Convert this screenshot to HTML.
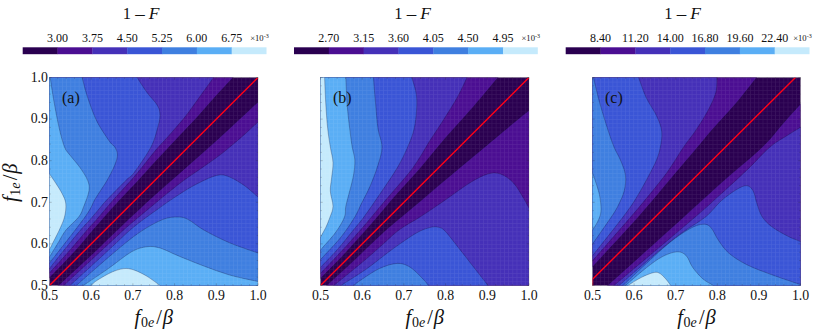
<!DOCTYPE html>
<html><head><meta charset="utf-8"><title>fig</title>
<style>
html,body{margin:0;padding:0;background:#fff;}
body{width:814px;height:336px;overflow:hidden;}
svg{display:block;font-family:"Liberation Serif",serif;fill:#111;}
</style></head><body>
<svg width="814" height="336" viewBox="0 0 814 336">
<defs>
<pattern id="mesh" width="4.17" height="4.16" patternUnits="userSpaceOnUse" x="49.5" y="77.5">
<path d="M0 0.2H4.17M0.2 0V4.16" stroke="#fff" stroke-opacity="0.08" stroke-width="1" fill="none"/>
</pattern>
</defs>
<rect width="814" height="336" fill="#fff"/>
<clipPath id="cp0"><rect x="49.5" y="77.5" width="208.5" height="208.0"/></clipPath>
<g clip-path="url(#cp0)">
<rect x="48.5" y="76.5" width="210.5" height="210.0" fill="#2a0050"/>
<path d="M236.0 74.0C235.5 74.6 236.9 73.2 233.0 77.5C229.1 81.8 218.3 93.4 212.4 100.0C206.5 106.6 202.7 111.2 197.4 117.0C192.1 122.8 185.6 129.5 180.4 135.0C175.2 140.5 171.0 145.0 166.3 150.0C161.6 155.0 156.9 160.0 152.3 165.0C147.7 170.0 143.7 174.7 138.8 180.0C133.9 185.3 127.4 192.0 122.7 197.0C118.0 202.0 114.2 206.2 110.7 210.0C107.2 213.8 104.8 216.7 101.9 220.0C99.0 223.3 95.9 226.7 93.1 230.0C90.2 233.3 87.6 236.7 84.8 240.0C82.0 243.3 79.9 245.8 76.1 250.0C72.3 254.2 66.4 260.4 62.0 265.0C57.6 269.6 52.2 275.1 49.5 277.9C46.8 280.6 46.6 280.9 46.0 281.5L29.5 281.5L29.5 57.5L236.0 57.5Z" fill="#4b0e92"/>
<path d="M262.0 99.0C261.3 99.5 261.4 99.0 258.0 102.0C254.7 105.0 247.8 111.5 241.9 117.0C236.0 122.5 228.4 129.5 222.4 135.0C216.4 140.5 211.4 145.0 205.8 150.0C200.2 155.0 194.5 160.0 188.8 165.0C183.1 170.0 178.4 174.2 171.8 180.0C165.2 185.8 154.8 195.0 149.2 200.0C143.6 205.0 142.1 206.7 138.5 210.0C134.9 213.3 131.2 216.7 127.7 220.0C124.2 223.3 120.8 226.7 117.3 230.0C113.8 233.3 110.4 236.7 106.9 240.0C103.5 243.3 101.0 245.8 96.6 250.0C92.2 254.2 86.9 259.1 80.5 265.0C74.1 270.9 62.6 281.6 58.4 285.5C54.2 289.4 56.0 288.0 55.5 288.5L55.5 305.5L278.0 305.5L278.0 99.0Z" fill="#4b0e92"/>
<path d="M216.0 74.0C215.6 74.6 216.7 73.2 213.6 77.5C210.5 81.8 202.2 93.4 197.4 100.0C192.6 106.6 189.6 111.2 184.9 117.0C180.2 122.8 174.2 129.5 169.4 135.0C164.6 140.5 160.1 145.0 155.8 150.0C151.5 155.0 147.9 160.0 143.8 165.0C139.7 170.0 136.4 174.2 131.3 180.0C126.2 185.8 117.6 195.0 113.2 200.0C108.8 205.0 107.5 206.7 104.7 210.0C101.9 213.3 99.1 216.7 96.2 220.0C93.3 223.3 91.4 225.0 87.1 230.0C82.8 235.0 76.4 242.8 70.1 250.0C63.8 257.1 53.5 268.5 49.5 272.9C45.5 277.3 46.6 275.9 46.0 276.5L29.5 276.5L29.5 57.5L216.0 57.5Z" fill="#4530b8"/>
<path d="M262.0 119.0C261.3 119.5 261.0 119.3 258.0 122.0C255.0 124.7 248.6 130.8 243.9 135.0C239.2 139.2 234.2 143.3 229.8 147.0C225.4 150.7 222.5 153.2 217.3 157.0C212.1 160.8 204.3 166.2 198.8 170.0C193.3 173.8 189.1 176.5 184.3 180.0C179.5 183.5 174.4 187.7 170.2 191.0C166.0 194.3 163.0 196.8 159.2 200.0C155.4 203.2 151.2 206.7 147.2 210.0C143.2 213.3 139.1 216.7 135.2 220.0C131.3 223.3 129.1 225.0 123.6 230.0C118.1 235.0 108.3 244.2 102.0 250.0C95.7 255.8 92.2 259.1 85.8 265.0C79.4 270.9 68.0 281.6 63.8 285.5C59.6 289.4 61.3 288.0 60.8 288.5L60.8 305.5L278.0 305.5L278.0 119.0Z" fill="#4530b8"/>
<path d="M134.7 74.0C135.0 74.5 134.6 73.9 136.7 77.0C138.8 80.1 143.6 87.8 147.0 92.5C150.4 97.2 155.2 101.5 157.4 105.4C159.6 109.3 160.0 111.8 160.0 115.7C160.0 119.6 158.9 123.4 157.4 128.6C155.9 133.8 154.9 139.6 151.0 147.0C147.1 154.4 138.1 167.3 134.0 172.8C129.9 178.3 130.8 175.5 126.3 180.0C121.8 184.5 111.4 195.0 106.7 200.0C102.0 205.0 101.0 206.7 98.2 210.0C95.4 213.3 92.6 216.7 89.7 220.0C86.8 223.3 84.9 225.0 80.6 230.0C76.3 235.0 69.3 243.6 64.1 250.0C58.9 256.4 52.5 264.7 49.5 268.4C46.5 272.1 46.6 271.4 46.0 272.0L29.5 272.0L29.5 57.5L134.7 57.5Z" fill="#3a55d6"/>
<path d="M262.0 199.0C261.3 198.7 260.8 199.2 258.0 197.0C255.2 194.8 249.7 189.3 245.0 186.0C240.3 182.7 234.3 178.8 229.6 177.0C224.9 175.2 222.7 174.0 216.7 175.4C210.7 176.8 200.8 181.8 193.5 185.7C186.2 189.6 178.7 194.7 172.8 198.6C166.9 202.5 163.1 205.3 158.0 209.0C152.9 212.7 146.8 216.8 142.0 220.5C137.2 224.2 134.6 226.1 129.0 231.0C123.5 235.9 118.5 240.9 108.7 250.0C98.9 259.1 77.0 279.1 70.0 285.5C63.0 291.9 67.5 288.0 67.0 288.5L67.0 305.5L278.0 305.5L278.0 199.0Z" fill="#3a55d6"/>
<path d="M81.2 74.0C81.3 74.5 80.9 73.1 82.0 77.0C83.1 80.9 85.2 90.3 87.7 97.6C90.2 104.9 93.1 113.6 96.7 120.9C100.3 128.2 106.6 137.2 109.6 141.5C112.6 145.8 113.5 144.8 114.8 147.0C116.1 149.2 117.4 151.7 117.4 154.7C117.4 157.7 116.5 160.7 114.8 165.0C113.1 169.3 110.2 174.9 107.0 180.5C103.8 186.1 99.1 192.5 95.4 198.6C91.7 204.7 92.7 206.3 85.0 217.0C77.3 227.7 56.0 254.7 49.5 263.0C43.0 271.3 46.6 266.3 46.0 267.0L29.5 267.0L29.5 57.5L81.2 57.5Z" fill="#3f7fe0"/>
<path d="M262.0 254.0C261.3 253.8 263.4 254.9 258.0 253.0C252.6 251.1 238.6 246.6 229.6 242.8C220.6 239.0 210.7 233.9 203.8 230.0C196.9 226.1 192.6 221.8 188.3 219.6C184.0 217.4 182.3 217.0 178.0 217.0C173.7 217.0 168.9 217.0 162.5 219.6C156.1 222.2 147.5 226.9 139.3 232.5C131.1 238.1 124.0 244.2 113.5 253.0C103.0 261.8 83.0 279.6 76.3 285.5C69.6 291.4 73.8 288.0 73.3 288.5L73.3 305.5L278.0 305.5L278.0 254.0Z" fill="#3f7fe0"/>
<path d="M49.8 74.0C49.9 74.7 49.6 73.5 50.3 78.3C51.0 83.1 52.7 94.4 54.2 102.8C55.7 111.2 57.6 121.2 59.3 128.6C61.0 136.0 62.8 142.7 64.5 147.0C66.2 151.3 67.0 151.3 69.6 154.7C72.2 158.1 77.0 163.3 80.0 167.6C83.0 171.9 86.2 176.6 87.7 180.5C89.2 184.4 89.7 186.6 89.0 190.9C88.3 195.2 85.5 202.0 83.8 206.3C82.1 210.7 81.7 213.1 78.7 217.0C75.7 220.9 69.5 225.7 66.0 230.0C62.5 234.3 60.8 238.5 58.0 243.0C55.2 247.5 51.5 253.8 49.5 256.8C47.5 259.8 46.6 260.3 46.0 261.0L29.5 261.0L29.5 74.0Z" fill="#5aaef5"/>
<path d="M262.0 282.0C261.3 281.9 263.4 282.7 258.0 281.5C252.6 280.3 238.6 277.6 229.6 275.0C220.6 272.4 212.4 269.2 203.8 266.0C195.2 262.8 185.3 258.7 178.0 255.7C170.7 252.7 165.2 249.5 160.0 248.0C154.8 246.5 151.8 246.1 147.0 246.7C142.2 247.3 137.9 248.2 131.5 251.8C125.0 255.5 116.3 263.0 108.3 268.6C100.3 274.2 88.1 282.2 83.4 285.5C78.8 288.8 80.9 288.0 80.4 288.5L80.4 305.5L262.0 305.5Z" fill="#5aaef5"/>
<path d="M46.0 170.0C46.6 170.7 48.2 172.2 49.5 174.0C50.8 175.8 51.9 177.3 54.0 180.5C56.1 183.7 60.0 189.5 62.0 193.4C64.0 197.3 65.4 199.9 65.8 203.8C66.2 207.7 65.6 212.6 64.5 217.0C63.4 221.4 61.4 225.3 59.3 230.0C57.1 234.7 53.2 242.2 51.6 245.4C50.0 248.6 50.4 247.6 49.5 249.0C48.6 250.4 46.6 253.2 46.0 254.0L29.5 254.0L29.5 170.0Z" fill="#c5eafc"/>
<path d="M164.0 288.5C163.3 288.0 162.8 287.5 160.0 285.5C157.2 283.5 151.3 278.9 147.0 276.3C142.7 273.7 137.9 271.3 134.0 270.0C130.1 268.7 127.6 268.2 123.8 268.6C120.0 269.0 115.7 270.4 111.0 272.5C106.3 274.6 98.7 279.3 95.4 281.5C92.1 283.7 92.6 284.3 91.4 285.5C90.2 286.7 88.6 288.0 88.0 288.5L88.0 305.5L164.0 305.5Z" fill="#c5eafc"/>
<path d="M236.0 74.0C235.5 74.6 236.9 73.2 233.0 77.5C229.1 81.8 218.3 93.4 212.4 100.0C206.5 106.6 202.7 111.2 197.4 117.0C192.1 122.8 185.6 129.5 180.4 135.0C175.2 140.5 171.0 145.0 166.3 150.0C161.6 155.0 156.9 160.0 152.3 165.0C147.7 170.0 143.7 174.7 138.8 180.0C133.9 185.3 127.4 192.0 122.7 197.0C118.0 202.0 114.2 206.2 110.7 210.0C107.2 213.8 104.8 216.7 101.9 220.0C99.0 223.3 95.9 226.7 93.1 230.0C90.2 233.3 87.6 236.7 84.8 240.0C82.0 243.3 79.9 245.8 76.1 250.0C72.3 254.2 66.4 260.4 62.0 265.0C57.6 269.6 52.2 275.1 49.5 277.9C46.8 280.6 46.6 280.9 46.0 281.5" fill="none" stroke="#0a0a30" stroke-opacity="0.55" stroke-width="0.5"/>
<path d="M262.0 99.0C261.3 99.5 261.4 99.0 258.0 102.0C254.7 105.0 247.8 111.5 241.9 117.0C236.0 122.5 228.4 129.5 222.4 135.0C216.4 140.5 211.4 145.0 205.8 150.0C200.2 155.0 194.5 160.0 188.8 165.0C183.1 170.0 178.4 174.2 171.8 180.0C165.2 185.8 154.8 195.0 149.2 200.0C143.6 205.0 142.1 206.7 138.5 210.0C134.9 213.3 131.2 216.7 127.7 220.0C124.2 223.3 120.8 226.7 117.3 230.0C113.8 233.3 110.4 236.7 106.9 240.0C103.5 243.3 101.0 245.8 96.6 250.0C92.2 254.2 86.9 259.1 80.5 265.0C74.1 270.9 62.6 281.6 58.4 285.5C54.2 289.4 56.0 288.0 55.5 288.5" fill="none" stroke="#0a0a30" stroke-opacity="0.55" stroke-width="0.5"/>
<path d="M216.0 74.0C215.6 74.6 216.7 73.2 213.6 77.5C210.5 81.8 202.2 93.4 197.4 100.0C192.6 106.6 189.6 111.2 184.9 117.0C180.2 122.8 174.2 129.5 169.4 135.0C164.6 140.5 160.1 145.0 155.8 150.0C151.5 155.0 147.9 160.0 143.8 165.0C139.7 170.0 136.4 174.2 131.3 180.0C126.2 185.8 117.6 195.0 113.2 200.0C108.8 205.0 107.5 206.7 104.7 210.0C101.9 213.3 99.1 216.7 96.2 220.0C93.3 223.3 91.4 225.0 87.1 230.0C82.8 235.0 76.4 242.8 70.1 250.0C63.8 257.1 53.5 268.5 49.5 272.9C45.5 277.3 46.6 275.9 46.0 276.5" fill="none" stroke="#0a0a30" stroke-opacity="0.55" stroke-width="0.5"/>
<path d="M262.0 119.0C261.3 119.5 261.0 119.3 258.0 122.0C255.0 124.7 248.6 130.8 243.9 135.0C239.2 139.2 234.2 143.3 229.8 147.0C225.4 150.7 222.5 153.2 217.3 157.0C212.1 160.8 204.3 166.2 198.8 170.0C193.3 173.8 189.1 176.5 184.3 180.0C179.5 183.5 174.4 187.7 170.2 191.0C166.0 194.3 163.0 196.8 159.2 200.0C155.4 203.2 151.2 206.7 147.2 210.0C143.2 213.3 139.1 216.7 135.2 220.0C131.3 223.3 129.1 225.0 123.6 230.0C118.1 235.0 108.3 244.2 102.0 250.0C95.7 255.8 92.2 259.1 85.8 265.0C79.4 270.9 68.0 281.6 63.8 285.5C59.6 289.4 61.3 288.0 60.8 288.5" fill="none" stroke="#0a0a30" stroke-opacity="0.55" stroke-width="0.5"/>
<path d="M134.7 74.0C135.0 74.5 134.6 73.9 136.7 77.0C138.8 80.1 143.6 87.8 147.0 92.5C150.4 97.2 155.2 101.5 157.4 105.4C159.6 109.3 160.0 111.8 160.0 115.7C160.0 119.6 158.9 123.4 157.4 128.6C155.9 133.8 154.9 139.6 151.0 147.0C147.1 154.4 138.1 167.3 134.0 172.8C129.9 178.3 130.8 175.5 126.3 180.0C121.8 184.5 111.4 195.0 106.7 200.0C102.0 205.0 101.0 206.7 98.2 210.0C95.4 213.3 92.6 216.7 89.7 220.0C86.8 223.3 84.9 225.0 80.6 230.0C76.3 235.0 69.3 243.6 64.1 250.0C58.9 256.4 52.5 264.7 49.5 268.4C46.5 272.1 46.6 271.4 46.0 272.0" fill="none" stroke="#0a0a30" stroke-opacity="0.55" stroke-width="0.5"/>
<path d="M262.0 199.0C261.3 198.7 260.8 199.2 258.0 197.0C255.2 194.8 249.7 189.3 245.0 186.0C240.3 182.7 234.3 178.8 229.6 177.0C224.9 175.2 222.7 174.0 216.7 175.4C210.7 176.8 200.8 181.8 193.5 185.7C186.2 189.6 178.7 194.7 172.8 198.6C166.9 202.5 163.1 205.3 158.0 209.0C152.9 212.7 146.8 216.8 142.0 220.5C137.2 224.2 134.6 226.1 129.0 231.0C123.5 235.9 118.5 240.9 108.7 250.0C98.9 259.1 77.0 279.1 70.0 285.5C63.0 291.9 67.5 288.0 67.0 288.5" fill="none" stroke="#0a0a30" stroke-opacity="0.55" stroke-width="0.5"/>
<path d="M81.2 74.0C81.3 74.5 80.9 73.1 82.0 77.0C83.1 80.9 85.2 90.3 87.7 97.6C90.2 104.9 93.1 113.6 96.7 120.9C100.3 128.2 106.6 137.2 109.6 141.5C112.6 145.8 113.5 144.8 114.8 147.0C116.1 149.2 117.4 151.7 117.4 154.7C117.4 157.7 116.5 160.7 114.8 165.0C113.1 169.3 110.2 174.9 107.0 180.5C103.8 186.1 99.1 192.5 95.4 198.6C91.7 204.7 92.7 206.3 85.0 217.0C77.3 227.7 56.0 254.7 49.5 263.0C43.0 271.3 46.6 266.3 46.0 267.0" fill="none" stroke="#0a0a30" stroke-opacity="0.55" stroke-width="0.5"/>
<path d="M262.0 254.0C261.3 253.8 263.4 254.9 258.0 253.0C252.6 251.1 238.6 246.6 229.6 242.8C220.6 239.0 210.7 233.9 203.8 230.0C196.9 226.1 192.6 221.8 188.3 219.6C184.0 217.4 182.3 217.0 178.0 217.0C173.7 217.0 168.9 217.0 162.5 219.6C156.1 222.2 147.5 226.9 139.3 232.5C131.1 238.1 124.0 244.2 113.5 253.0C103.0 261.8 83.0 279.6 76.3 285.5C69.6 291.4 73.8 288.0 73.3 288.5" fill="none" stroke="#0a0a30" stroke-opacity="0.55" stroke-width="0.5"/>
<path d="M49.8 74.0C49.9 74.7 49.6 73.5 50.3 78.3C51.0 83.1 52.7 94.4 54.2 102.8C55.7 111.2 57.6 121.2 59.3 128.6C61.0 136.0 62.8 142.7 64.5 147.0C66.2 151.3 67.0 151.3 69.6 154.7C72.2 158.1 77.0 163.3 80.0 167.6C83.0 171.9 86.2 176.6 87.7 180.5C89.2 184.4 89.7 186.6 89.0 190.9C88.3 195.2 85.5 202.0 83.8 206.3C82.1 210.7 81.7 213.1 78.7 217.0C75.7 220.9 69.5 225.7 66.0 230.0C62.5 234.3 60.8 238.5 58.0 243.0C55.2 247.5 51.5 253.8 49.5 256.8C47.5 259.8 46.6 260.3 46.0 261.0" fill="none" stroke="#0a0a30" stroke-opacity="0.55" stroke-width="0.5"/>
<path d="M262.0 282.0C261.3 281.9 263.4 282.7 258.0 281.5C252.6 280.3 238.6 277.6 229.6 275.0C220.6 272.4 212.4 269.2 203.8 266.0C195.2 262.8 185.3 258.7 178.0 255.7C170.7 252.7 165.2 249.5 160.0 248.0C154.8 246.5 151.8 246.1 147.0 246.7C142.2 247.3 137.9 248.2 131.5 251.8C125.0 255.5 116.3 263.0 108.3 268.6C100.3 274.2 88.1 282.2 83.4 285.5C78.8 288.8 80.9 288.0 80.4 288.5" fill="none" stroke="#0a0a30" stroke-opacity="0.55" stroke-width="0.5"/>
<path d="M46.0 170.0C46.6 170.7 48.2 172.2 49.5 174.0C50.8 175.8 51.9 177.3 54.0 180.5C56.1 183.7 60.0 189.5 62.0 193.4C64.0 197.3 65.4 199.9 65.8 203.8C66.2 207.7 65.6 212.6 64.5 217.0C63.4 221.4 61.4 225.3 59.3 230.0C57.1 234.7 53.2 242.2 51.6 245.4C50.0 248.6 50.4 247.6 49.5 249.0C48.6 250.4 46.6 253.2 46.0 254.0" fill="none" stroke="#0a0a30" stroke-opacity="0.55" stroke-width="0.5"/>
<path d="M164.0 288.5C163.3 288.0 162.8 287.5 160.0 285.5C157.2 283.5 151.3 278.9 147.0 276.3C142.7 273.7 137.9 271.3 134.0 270.0C130.1 268.7 127.6 268.2 123.8 268.6C120.0 269.0 115.7 270.4 111.0 272.5C106.3 274.6 98.7 279.3 95.4 281.5C92.1 283.7 92.6 284.3 91.4 285.5C90.2 286.7 88.6 288.0 88.0 288.5" fill="none" stroke="#0a0a30" stroke-opacity="0.55" stroke-width="0.5"/>
<rect x="49.5" y="77.5" width="208.5" height="208.0" fill="url(#mesh)"/>
<path d="M49.5 285.5L258 77.5" fill="none" stroke="#ff0018" stroke-width="1.4"/>
</g>
<path d="M49.50 285.5v-2.2M49.50 77.5v2.2M49.5 285.50h2.2M258.0 285.50h-2.2M57.84 285.5v-1.3M57.84 77.5v1.3M49.5 277.18h1.3M258.0 277.18h-1.3M66.18 285.5v-1.3M66.18 77.5v1.3M49.5 268.86h1.3M258.0 268.86h-1.3M74.52 285.5v-1.3M74.52 77.5v1.3M49.5 260.54h1.3M258.0 260.54h-1.3M82.86 285.5v-1.3M82.86 77.5v1.3M49.5 252.22h1.3M258.0 252.22h-1.3M91.20 285.5v-2.2M91.20 77.5v2.2M49.5 243.90h2.2M258.0 243.90h-2.2M99.54 285.5v-1.3M99.54 77.5v1.3M49.5 235.58h1.3M258.0 235.58h-1.3M107.88 285.5v-1.3M107.88 77.5v1.3M49.5 227.26h1.3M258.0 227.26h-1.3M116.22 285.5v-1.3M116.22 77.5v1.3M49.5 218.94h1.3M258.0 218.94h-1.3M124.56 285.5v-1.3M124.56 77.5v1.3M49.5 210.62h1.3M258.0 210.62h-1.3M132.90 285.5v-2.2M132.90 77.5v2.2M49.5 202.30h2.2M258.0 202.30h-2.2M141.24 285.5v-1.3M141.24 77.5v1.3M49.5 193.98h1.3M258.0 193.98h-1.3M149.58 285.5v-1.3M149.58 77.5v1.3M49.5 185.66h1.3M258.0 185.66h-1.3M157.92 285.5v-1.3M157.92 77.5v1.3M49.5 177.34h1.3M258.0 177.34h-1.3M166.26 285.5v-1.3M166.26 77.5v1.3M49.5 169.02h1.3M258.0 169.02h-1.3M174.60 285.5v-2.2M174.60 77.5v2.2M49.5 160.70h2.2M258.0 160.70h-2.2M182.94 285.5v-1.3M182.94 77.5v1.3M49.5 152.38h1.3M258.0 152.38h-1.3M191.28 285.5v-1.3M191.28 77.5v1.3M49.5 144.06h1.3M258.0 144.06h-1.3M199.62 285.5v-1.3M199.62 77.5v1.3M49.5 135.74h1.3M258.0 135.74h-1.3M207.96 285.5v-1.3M207.96 77.5v1.3M49.5 127.42h1.3M258.0 127.42h-1.3M216.30 285.5v-2.2M216.30 77.5v2.2M49.5 119.10h2.2M258.0 119.10h-2.2M224.64 285.5v-1.3M224.64 77.5v1.3M49.5 110.78h1.3M258.0 110.78h-1.3M232.98 285.5v-1.3M232.98 77.5v1.3M49.5 102.46h1.3M258.0 102.46h-1.3M241.32 285.5v-1.3M241.32 77.5v1.3M49.5 94.14h1.3M258.0 94.14h-1.3M249.66 285.5v-1.3M249.66 77.5v1.3M49.5 85.82h1.3M258.0 85.82h-1.3M258.00 285.5v-2.2M258.00 77.5v2.2M49.5 77.50h2.2M258.0 77.50h-2.2" stroke="#222" stroke-opacity="0.6" stroke-width="0.4" fill="none"/>
<rect x="49.5" y="77.5" width="208.5" height="208.0" fill="none" stroke="#555" stroke-opacity="0.5" stroke-width="0.4"/>
<text x="49.5" y="299.9" text-anchor="middle" font-size="13.8">0.5</text>
<text x="91.2" y="299.9" text-anchor="middle" font-size="13.8">0.6</text>
<text x="132.9" y="299.9" text-anchor="middle" font-size="13.8">0.7</text>
<text x="174.6" y="299.9" text-anchor="middle" font-size="13.8">0.8</text>
<text x="216.3" y="299.9" text-anchor="middle" font-size="13.8">0.9</text>
<text x="258.0" y="299.9" text-anchor="middle" font-size="13.8">1.0</text>
<text x="153.8" y="323.6" text-anchor="middle" font-size="20.5" font-style="italic" class="axl">f<tspan font-size="14" dy="3.4" dx="0.6" font-style="normal">0</tspan><tspan font-size="14">e</tspan><tspan dy="-3.4" dx="2.2" font-style="normal">/</tspan><tspan dx="0.8">β</tspan></text>
<rect x="22.70" y="47.3" width="35.13" height="6.9" fill="#2a0050"/>
<rect x="57.53" y="47.3" width="35.13" height="6.9" fill="#4b0e92"/>
<rect x="92.36" y="47.3" width="35.13" height="6.9" fill="#4530b8"/>
<rect x="127.19" y="47.3" width="35.13" height="6.9" fill="#3a55d6"/>
<rect x="162.02" y="47.3" width="35.13" height="6.9" fill="#3f7fe0"/>
<rect x="196.85" y="47.3" width="35.13" height="6.9" fill="#5aaef5"/>
<rect x="231.68" y="47.3" width="34.83" height="6.9" fill="#c5eafc"/>
<text x="57.5" y="41.6" text-anchor="middle" font-size="12">3.00</text>
<text x="92.4" y="41.6" text-anchor="middle" font-size="12">3.75</text>
<text x="127.2" y="41.6" text-anchor="middle" font-size="12">4.50</text>
<text x="162.0" y="41.6" text-anchor="middle" font-size="12">5.25</text>
<text x="196.8" y="41.6" text-anchor="middle" font-size="12">6.00</text>
<text x="231.7" y="41.6" text-anchor="middle" font-size="12">6.75</text>
<text x="250.2" y="40.8" font-size="8.6">×10<tspan dy="-3" font-size="6">-3</tspan></text>
<text x="141.2" y="19.3" text-anchor="middle" font-size="16.5">1 <tspan font-size="19" dy="0.6">–</tspan><tspan dy="-0.6"> </tspan><tspan font-style="italic" font-size="17.5">F</tspan></text>
<text x="62.0" y="102.6" font-size="16">(a)</text>
<clipPath id="cp1"><rect x="320.5" y="77.5" width="208.5" height="208.0"/></clipPath>
<g clip-path="url(#cp1)">
<rect x="319.5" y="76.5" width="210.5" height="210.0" fill="#2a0050"/>
<path d="M500.5 74.0C500.1 74.6 502.3 72.3 498.0 77.5C493.7 82.7 482.2 96.6 474.9 105.0C467.6 113.4 459.6 122.2 454.4 128.0C449.2 133.8 447.6 135.5 443.8 140.0C440.0 144.5 435.5 150.0 431.3 155.0C427.1 160.0 423.2 165.0 418.8 170.0C414.4 175.0 409.7 180.0 405.2 185.0C400.7 190.0 396.0 195.0 391.7 200.0C387.4 205.0 383.5 210.0 379.2 215.0C374.9 220.0 370.5 225.0 366.1 230.0C361.7 235.0 357.2 240.0 352.6 245.0C348.1 250.0 344.2 254.4 338.8 260.0C333.4 265.6 324.1 274.9 320.5 278.6C316.9 282.3 317.6 281.4 317.0 282.0L317.0 305.5L300.5 305.5L300.5 57.5L500.5 57.5Z" fill="#4b0e92"/>
<path d="M533.0 106.0C532.3 106.7 531.6 108.0 529.0 110.3C526.4 112.6 524.5 113.9 517.1 120.0C509.7 126.1 492.1 140.8 484.7 147.0C477.3 153.2 477.3 153.2 472.7 157.0C468.1 160.8 462.6 165.4 457.1 170.0C451.7 174.6 445.9 179.3 440.0 184.3C434.1 189.3 427.8 194.9 421.7 200.0C415.6 205.1 409.7 210.0 403.7 215.0C397.7 220.0 391.5 225.0 385.9 230.0C380.3 235.0 375.2 240.0 369.9 245.0C364.6 250.0 361.5 253.2 354.3 260.0C347.1 266.8 331.8 280.8 326.7 285.5C321.6 290.2 324.2 288.0 323.7 288.5L323.7 305.5L549.0 305.5L549.0 106.0Z" fill="#4b0e92"/>
<path d="M468.5 74.0C468.2 74.6 468.8 73.7 467.0 77.5C465.2 81.3 461.4 89.9 457.5 97.0C453.6 104.1 447.9 112.8 443.4 120.0C438.9 127.2 434.0 134.2 430.3 140.0C426.6 145.8 424.5 150.0 421.3 155.0C418.1 160.0 415.1 165.0 411.3 170.0C407.5 175.0 403.0 180.0 398.7 185.0C394.4 190.0 389.9 195.0 385.7 200.0C381.4 205.0 377.4 210.0 373.2 215.0C369.0 220.0 365.6 224.2 360.5 230.0C355.4 235.8 349.3 242.8 342.6 250.0C335.9 257.2 324.8 268.9 320.5 273.4C316.2 277.9 317.6 276.4 317.0 277.0L300.5 277.0L300.5 57.5L468.5 57.5Z" fill="#4530b8"/>
<path d="M533.0 213.0C532.3 212.2 530.5 210.4 529.0 208.0C527.5 205.6 526.4 202.8 523.8 198.6C521.2 194.4 517.4 187.1 513.5 183.0C509.6 178.9 504.9 175.5 500.6 174.0C496.3 172.5 492.9 172.5 487.7 174.0C482.5 175.5 476.9 178.5 469.6 183.0C462.3 187.5 452.1 195.3 443.8 201.0C435.5 206.7 427.5 212.2 420.0 217.0C412.5 221.8 405.3 225.3 399.0 230.0C392.7 234.7 387.7 240.0 382.0 245.0C376.3 250.0 373.0 253.2 365.0 260.0C357.0 266.8 339.6 280.8 333.9 285.5C328.1 290.2 331.1 288.0 330.5 288.5L330.5 305.5L549.0 305.5L549.0 213.0Z" fill="#4530b8"/>
<path d="M410.5 74.0C410.7 74.5 410.7 73.9 411.6 77.0C412.5 80.1 415.1 87.3 416.0 92.5C416.9 97.7 417.0 102.0 416.7 108.0C416.4 114.0 415.7 122.1 414.2 128.6C412.7 135.1 410.5 140.5 407.7 147.0C404.9 153.5 401.7 160.3 397.4 167.6C393.1 174.9 387.6 182.8 382.0 191.0C376.4 199.2 368.7 210.5 363.9 217.0C359.1 223.5 357.9 224.5 353.4 230.0C348.9 235.5 342.5 243.8 337.0 250.0C331.5 256.2 323.8 263.9 320.5 267.4C317.2 270.9 317.6 270.4 317.0 271.0L300.5 271.0L300.5 57.5L410.5 57.5Z" fill="#3a55d6"/>
<path d="M490.5 289.0C490.1 288.4 490.6 288.9 488.0 285.5C485.4 282.1 480.0 275.3 474.8 268.6C469.6 261.9 461.7 251.7 456.7 245.4C451.7 239.1 448.0 234.0 445.0 231.0C442.0 228.0 441.2 227.9 438.7 227.3C436.2 226.7 433.9 226.5 430.0 227.5C426.1 228.5 421.8 229.8 415.5 233.5C409.2 237.2 400.2 243.6 392.0 249.5C383.8 255.4 374.9 263.0 366.4 269.0C357.9 275.0 345.9 282.2 341.0 285.5C336.1 288.8 337.7 288.0 337.0 288.5L337.0 305.5L490.5 305.5Z" fill="#3a55d6"/>
<path d="M373.1 74.0C373.2 74.5 373.0 72.2 373.4 77.0C373.8 81.8 374.7 94.2 375.5 102.8C376.3 111.4 376.9 121.2 378.0 128.6C379.1 136.0 382.0 140.9 382.0 147.0C382.0 153.1 379.9 158.6 378.0 165.0C376.1 171.4 373.1 179.2 370.3 185.7C367.5 192.2 363.9 198.6 361.3 203.8C358.7 209.0 358.2 211.4 354.8 217.0C351.4 222.6 346.3 230.5 340.6 237.6C334.9 244.7 324.4 255.2 320.5 259.6C316.6 264.0 317.6 263.3 317.0 264.0L300.5 264.0L300.5 57.5L373.1 57.5Z" fill="#3f7fe0"/>
<path d="M431.0 289.0C430.6 288.4 429.7 287.2 428.4 285.5C427.1 283.8 426.0 282.0 423.0 279.0C420.0 276.0 414.6 269.9 410.3 267.3C406.0 264.7 402.6 263.2 397.4 263.4C392.2 263.6 385.8 265.6 379.3 268.6C372.9 271.6 362.9 278.7 358.7 281.5C354.5 284.3 355.4 284.3 354.0 285.5C352.6 286.7 350.7 288.0 350.0 288.5L350.0 305.5L431.0 305.5Z" fill="#3f7fe0"/>
<path d="M345.6 74.0C345.6 74.5 345.6 72.2 345.8 77.0C346.0 81.8 346.4 94.2 347.0 102.8C347.6 111.4 348.8 121.2 349.7 128.6C350.6 136.0 351.3 141.8 352.2 147.0C353.1 152.2 354.6 155.3 354.8 160.0C355.0 164.7 354.4 170.2 353.5 175.4C352.6 180.6 351.0 185.8 349.7 191.0C348.4 196.2 346.7 202.0 345.8 206.3C344.9 210.6 346.2 212.6 344.5 217.0C342.8 221.4 339.5 227.0 335.5 232.5C331.5 238.0 323.6 246.2 320.5 250.0C317.4 253.8 317.6 254.2 317.0 255.0L300.5 255.0L300.5 57.5L345.6 57.5Z" fill="#5aaef5"/>
<path d="M324.5 74.0C324.5 74.5 324.4 72.2 324.6 77.0C324.8 81.8 325.2 94.2 325.7 102.8C326.2 111.4 326.9 121.2 327.7 128.6C328.5 136.0 329.4 141.3 330.3 147.0C331.2 152.7 332.8 157.3 333.0 162.5C333.2 167.7 332.1 173.2 331.6 178.0C331.2 182.8 330.1 186.3 330.3 191.0C330.5 195.7 333.1 202.0 333.0 206.3C332.9 210.6 331.2 213.6 330.0 217.0C328.8 220.4 327.6 223.7 326.0 227.0C324.4 230.3 322.0 234.5 320.5 237.0C319.0 239.5 317.6 241.2 317.0 242.0L300.5 242.0L300.5 57.5L324.5 57.5Z" fill="#c5eafc"/>
<path d="M500.5 74.0C500.1 74.6 502.3 72.3 498.0 77.5C493.7 82.7 482.2 96.6 474.9 105.0C467.6 113.4 459.6 122.2 454.4 128.0C449.2 133.8 447.6 135.5 443.8 140.0C440.0 144.5 435.5 150.0 431.3 155.0C427.1 160.0 423.2 165.0 418.8 170.0C414.4 175.0 409.7 180.0 405.2 185.0C400.7 190.0 396.0 195.0 391.7 200.0C387.4 205.0 383.5 210.0 379.2 215.0C374.9 220.0 370.5 225.0 366.1 230.0C361.7 235.0 357.2 240.0 352.6 245.0C348.1 250.0 344.2 254.4 338.8 260.0C333.4 265.6 324.1 274.9 320.5 278.6C316.9 282.3 317.6 281.4 317.0 282.0" fill="none" stroke="#0a0a30" stroke-opacity="0.55" stroke-width="0.5"/>
<path d="M533.0 106.0C532.3 106.7 531.6 108.0 529.0 110.3C526.4 112.6 524.5 113.9 517.1 120.0C509.7 126.1 492.1 140.8 484.7 147.0C477.3 153.2 477.3 153.2 472.7 157.0C468.1 160.8 462.6 165.4 457.1 170.0C451.7 174.6 445.9 179.3 440.0 184.3C434.1 189.3 427.8 194.9 421.7 200.0C415.6 205.1 409.7 210.0 403.7 215.0C397.7 220.0 391.5 225.0 385.9 230.0C380.3 235.0 375.2 240.0 369.9 245.0C364.6 250.0 361.5 253.2 354.3 260.0C347.1 266.8 331.8 280.8 326.7 285.5C321.6 290.2 324.2 288.0 323.7 288.5" fill="none" stroke="#0a0a30" stroke-opacity="0.55" stroke-width="0.5"/>
<path d="M468.5 74.0C468.2 74.6 468.8 73.7 467.0 77.5C465.2 81.3 461.4 89.9 457.5 97.0C453.6 104.1 447.9 112.8 443.4 120.0C438.9 127.2 434.0 134.2 430.3 140.0C426.6 145.8 424.5 150.0 421.3 155.0C418.1 160.0 415.1 165.0 411.3 170.0C407.5 175.0 403.0 180.0 398.7 185.0C394.4 190.0 389.9 195.0 385.7 200.0C381.4 205.0 377.4 210.0 373.2 215.0C369.0 220.0 365.6 224.2 360.5 230.0C355.4 235.8 349.3 242.8 342.6 250.0C335.9 257.2 324.8 268.9 320.5 273.4C316.2 277.9 317.6 276.4 317.0 277.0" fill="none" stroke="#0a0a30" stroke-opacity="0.55" stroke-width="0.5"/>
<path d="M533.0 213.0C532.3 212.2 530.5 210.4 529.0 208.0C527.5 205.6 526.4 202.8 523.8 198.6C521.2 194.4 517.4 187.1 513.5 183.0C509.6 178.9 504.9 175.5 500.6 174.0C496.3 172.5 492.9 172.5 487.7 174.0C482.5 175.5 476.9 178.5 469.6 183.0C462.3 187.5 452.1 195.3 443.8 201.0C435.5 206.7 427.5 212.2 420.0 217.0C412.5 221.8 405.3 225.3 399.0 230.0C392.7 234.7 387.7 240.0 382.0 245.0C376.3 250.0 373.0 253.2 365.0 260.0C357.0 266.8 339.6 280.8 333.9 285.5C328.1 290.2 331.1 288.0 330.5 288.5" fill="none" stroke="#0a0a30" stroke-opacity="0.55" stroke-width="0.5"/>
<path d="M410.5 74.0C410.7 74.5 410.7 73.9 411.6 77.0C412.5 80.1 415.1 87.3 416.0 92.5C416.9 97.7 417.0 102.0 416.7 108.0C416.4 114.0 415.7 122.1 414.2 128.6C412.7 135.1 410.5 140.5 407.7 147.0C404.9 153.5 401.7 160.3 397.4 167.6C393.1 174.9 387.6 182.8 382.0 191.0C376.4 199.2 368.7 210.5 363.9 217.0C359.1 223.5 357.9 224.5 353.4 230.0C348.9 235.5 342.5 243.8 337.0 250.0C331.5 256.2 323.8 263.9 320.5 267.4C317.2 270.9 317.6 270.4 317.0 271.0" fill="none" stroke="#0a0a30" stroke-opacity="0.55" stroke-width="0.5"/>
<path d="M490.5 289.0C490.1 288.4 490.6 288.9 488.0 285.5C485.4 282.1 480.0 275.3 474.8 268.6C469.6 261.9 461.7 251.7 456.7 245.4C451.7 239.1 448.0 234.0 445.0 231.0C442.0 228.0 441.2 227.9 438.7 227.3C436.2 226.7 433.9 226.5 430.0 227.5C426.1 228.5 421.8 229.8 415.5 233.5C409.2 237.2 400.2 243.6 392.0 249.5C383.8 255.4 374.9 263.0 366.4 269.0C357.9 275.0 345.9 282.2 341.0 285.5C336.1 288.8 337.7 288.0 337.0 288.5" fill="none" stroke="#0a0a30" stroke-opacity="0.55" stroke-width="0.5"/>
<path d="M373.1 74.0C373.2 74.5 373.0 72.2 373.4 77.0C373.8 81.8 374.7 94.2 375.5 102.8C376.3 111.4 376.9 121.2 378.0 128.6C379.1 136.0 382.0 140.9 382.0 147.0C382.0 153.1 379.9 158.6 378.0 165.0C376.1 171.4 373.1 179.2 370.3 185.7C367.5 192.2 363.9 198.6 361.3 203.8C358.7 209.0 358.2 211.4 354.8 217.0C351.4 222.6 346.3 230.5 340.6 237.6C334.9 244.7 324.4 255.2 320.5 259.6C316.6 264.0 317.6 263.3 317.0 264.0" fill="none" stroke="#0a0a30" stroke-opacity="0.55" stroke-width="0.5"/>
<path d="M431.0 289.0C430.6 288.4 429.7 287.2 428.4 285.5C427.1 283.8 426.0 282.0 423.0 279.0C420.0 276.0 414.6 269.9 410.3 267.3C406.0 264.7 402.6 263.2 397.4 263.4C392.2 263.6 385.8 265.6 379.3 268.6C372.9 271.6 362.9 278.7 358.7 281.5C354.5 284.3 355.4 284.3 354.0 285.5C352.6 286.7 350.7 288.0 350.0 288.5" fill="none" stroke="#0a0a30" stroke-opacity="0.55" stroke-width="0.5"/>
<path d="M345.6 74.0C345.6 74.5 345.6 72.2 345.8 77.0C346.0 81.8 346.4 94.2 347.0 102.8C347.6 111.4 348.8 121.2 349.7 128.6C350.6 136.0 351.3 141.8 352.2 147.0C353.1 152.2 354.6 155.3 354.8 160.0C355.0 164.7 354.4 170.2 353.5 175.4C352.6 180.6 351.0 185.8 349.7 191.0C348.4 196.2 346.7 202.0 345.8 206.3C344.9 210.6 346.2 212.6 344.5 217.0C342.8 221.4 339.5 227.0 335.5 232.5C331.5 238.0 323.6 246.2 320.5 250.0C317.4 253.8 317.6 254.2 317.0 255.0" fill="none" stroke="#0a0a30" stroke-opacity="0.55" stroke-width="0.5"/>
<path d="M324.5 74.0C324.5 74.5 324.4 72.2 324.6 77.0C324.8 81.8 325.2 94.2 325.7 102.8C326.2 111.4 326.9 121.2 327.7 128.6C328.5 136.0 329.4 141.3 330.3 147.0C331.2 152.7 332.8 157.3 333.0 162.5C333.2 167.7 332.1 173.2 331.6 178.0C331.2 182.8 330.1 186.3 330.3 191.0C330.5 195.7 333.1 202.0 333.0 206.3C332.9 210.6 331.2 213.6 330.0 217.0C328.8 220.4 327.6 223.7 326.0 227.0C324.4 230.3 322.0 234.5 320.5 237.0C319.0 239.5 317.6 241.2 317.0 242.0" fill="none" stroke="#0a0a30" stroke-opacity="0.55" stroke-width="0.5"/>
<rect x="320.5" y="77.5" width="208.5" height="208.0" fill="url(#mesh)"/>
<path d="M320.5 285.5L529 77.5" fill="none" stroke="#ff0018" stroke-width="1.4"/>
</g>
<path d="M320.50 285.5v-2.2M320.50 77.5v2.2M320.5 285.50h2.2M529.0 285.50h-2.2M328.84 285.5v-1.3M328.84 77.5v1.3M320.5 277.18h1.3M529.0 277.18h-1.3M337.18 285.5v-1.3M337.18 77.5v1.3M320.5 268.86h1.3M529.0 268.86h-1.3M345.52 285.5v-1.3M345.52 77.5v1.3M320.5 260.54h1.3M529.0 260.54h-1.3M353.86 285.5v-1.3M353.86 77.5v1.3M320.5 252.22h1.3M529.0 252.22h-1.3M362.20 285.5v-2.2M362.20 77.5v2.2M320.5 243.90h2.2M529.0 243.90h-2.2M370.54 285.5v-1.3M370.54 77.5v1.3M320.5 235.58h1.3M529.0 235.58h-1.3M378.88 285.5v-1.3M378.88 77.5v1.3M320.5 227.26h1.3M529.0 227.26h-1.3M387.22 285.5v-1.3M387.22 77.5v1.3M320.5 218.94h1.3M529.0 218.94h-1.3M395.56 285.5v-1.3M395.56 77.5v1.3M320.5 210.62h1.3M529.0 210.62h-1.3M403.90 285.5v-2.2M403.90 77.5v2.2M320.5 202.30h2.2M529.0 202.30h-2.2M412.24 285.5v-1.3M412.24 77.5v1.3M320.5 193.98h1.3M529.0 193.98h-1.3M420.58 285.5v-1.3M420.58 77.5v1.3M320.5 185.66h1.3M529.0 185.66h-1.3M428.92 285.5v-1.3M428.92 77.5v1.3M320.5 177.34h1.3M529.0 177.34h-1.3M437.26 285.5v-1.3M437.26 77.5v1.3M320.5 169.02h1.3M529.0 169.02h-1.3M445.60 285.5v-2.2M445.60 77.5v2.2M320.5 160.70h2.2M529.0 160.70h-2.2M453.94 285.5v-1.3M453.94 77.5v1.3M320.5 152.38h1.3M529.0 152.38h-1.3M462.28 285.5v-1.3M462.28 77.5v1.3M320.5 144.06h1.3M529.0 144.06h-1.3M470.62 285.5v-1.3M470.62 77.5v1.3M320.5 135.74h1.3M529.0 135.74h-1.3M478.96 285.5v-1.3M478.96 77.5v1.3M320.5 127.42h1.3M529.0 127.42h-1.3M487.30 285.5v-2.2M487.30 77.5v2.2M320.5 119.10h2.2M529.0 119.10h-2.2M495.64 285.5v-1.3M495.64 77.5v1.3M320.5 110.78h1.3M529.0 110.78h-1.3M503.98 285.5v-1.3M503.98 77.5v1.3M320.5 102.46h1.3M529.0 102.46h-1.3M512.32 285.5v-1.3M512.32 77.5v1.3M320.5 94.14h1.3M529.0 94.14h-1.3M520.66 285.5v-1.3M520.66 77.5v1.3M320.5 85.82h1.3M529.0 85.82h-1.3M529.00 285.5v-2.2M529.00 77.5v2.2M320.5 77.50h2.2M529.0 77.50h-2.2" stroke="#222" stroke-opacity="0.6" stroke-width="0.4" fill="none"/>
<rect x="320.5" y="77.5" width="208.5" height="208.0" fill="none" stroke="#555" stroke-opacity="0.5" stroke-width="0.4"/>
<text x="320.5" y="299.9" text-anchor="middle" font-size="13.8">0.5</text>
<text x="362.2" y="299.9" text-anchor="middle" font-size="13.8">0.6</text>
<text x="403.9" y="299.9" text-anchor="middle" font-size="13.8">0.7</text>
<text x="445.6" y="299.9" text-anchor="middle" font-size="13.8">0.8</text>
<text x="487.3" y="299.9" text-anchor="middle" font-size="13.8">0.9</text>
<text x="529.0" y="299.9" text-anchor="middle" font-size="13.8">1.0</text>
<text x="424.8" y="323.6" text-anchor="middle" font-size="20.5" font-style="italic" class="axl">f<tspan font-size="14" dy="3.4" dx="0.6" font-style="normal">0</tspan><tspan font-size="14">e</tspan><tspan dy="-3.4" dx="2.2" font-style="normal">/</tspan><tspan dx="0.8">β</tspan></text>
<rect x="294.00" y="47.3" width="35.13" height="6.9" fill="#2a0050"/>
<rect x="328.83" y="47.3" width="35.13" height="6.9" fill="#4b0e92"/>
<rect x="363.66" y="47.3" width="35.13" height="6.9" fill="#4530b8"/>
<rect x="398.49" y="47.3" width="35.13" height="6.9" fill="#3a55d6"/>
<rect x="433.32" y="47.3" width="35.13" height="6.9" fill="#3f7fe0"/>
<rect x="468.15" y="47.3" width="35.13" height="6.9" fill="#5aaef5"/>
<rect x="502.98" y="47.3" width="34.83" height="6.9" fill="#c5eafc"/>
<text x="328.8" y="41.6" text-anchor="middle" font-size="12">2.70</text>
<text x="363.7" y="41.6" text-anchor="middle" font-size="12">3.15</text>
<text x="398.5" y="41.6" text-anchor="middle" font-size="12">3.60</text>
<text x="433.3" y="41.6" text-anchor="middle" font-size="12">4.05</text>
<text x="468.1" y="41.6" text-anchor="middle" font-size="12">4.50</text>
<text x="503.0" y="41.6" text-anchor="middle" font-size="12">4.95</text>
<text x="521.5" y="40.8" font-size="8.6">×10<tspan dy="-3" font-size="6">-3</tspan></text>
<text x="412.7" y="19.3" text-anchor="middle" font-size="16.5">1 <tspan font-size="19" dy="0.6">–</tspan><tspan dy="-0.6"> </tspan><tspan font-style="italic" font-size="17.5">F</tspan></text>
<text x="333.0" y="102.6" font-size="16">(b)</text>
<clipPath id="cp2"><rect x="592.5" y="77.5" width="208.0" height="208.0"/></clipPath>
<g clip-path="url(#cp2)">
<rect x="591.5" y="76.5" width="210.0" height="210.0" fill="#2a0050"/>
<path d="M759.5 74.0C759.1 74.5 760.8 72.2 757.0 77.0C753.2 81.8 743.8 94.2 736.5 102.8C729.2 111.4 719.8 121.2 713.3 128.6C706.8 136.0 705.1 138.3 697.8 147.0C690.5 155.7 679.3 168.8 669.4 180.5C659.5 192.2 651.2 202.6 638.4 217.0C625.6 231.4 600.7 258.0 592.5 267.0C584.3 276.0 589.6 270.3 589.0 271.0L572.5 271.0L572.5 57.5L759.5 57.5Z" fill="#4b0e92"/>
<path d="M804.0 100.0C803.4 100.7 804.0 100.1 800.5 104.0C797.0 107.9 789.4 116.2 783.0 123.4C776.6 130.6 772.6 137.1 762.3 147.0C752.0 156.9 734.1 171.3 721.0 183.0C707.9 194.7 702.5 199.9 683.6 217.0C664.7 234.1 620.8 273.6 607.5 285.5C594.2 297.4 604.6 288.0 604.0 288.5L604.0 305.5L820.5 305.5L820.5 100.0Z" fill="#4b0e92"/>
<path d="M717.0 74.0C717.0 74.5 717.2 73.9 717.0 77.0C716.8 80.1 717.3 86.9 715.8 92.5C714.3 98.1 711.4 104.0 708.0 110.5C704.6 117.0 699.3 125.1 695.2 131.2C691.1 137.3 688.3 140.1 683.6 147.0C678.9 153.9 673.0 164.2 666.8 172.8C660.6 181.4 652.2 191.2 646.2 198.6C640.2 206.0 639.7 206.6 630.7 217.0C621.8 227.4 599.5 252.8 592.5 260.8C585.5 268.8 589.6 264.3 589.0 265.0L572.5 265.0L572.5 57.5L717.0 57.5Z" fill="#4530b8"/>
<path d="M804.0 125.0C803.4 125.4 803.2 125.6 800.5 127.3C797.8 129.0 793.1 131.7 788.0 135.0C782.9 138.3 776.9 141.1 770.0 147.0C763.1 152.9 755.8 161.6 746.8 170.2C737.8 178.8 724.4 190.8 715.8 198.6C707.2 206.4 712.2 202.5 695.2 217.0C678.2 231.5 628.1 273.6 614.0 285.5C599.9 297.4 611.1 288.0 610.5 288.5L610.5 305.5L820.5 305.5L820.5 125.0Z" fill="#4530b8"/>
<path d="M637.2 74.0C637.4 74.5 636.9 73.1 638.4 77.0C639.9 80.9 643.2 91.1 646.2 97.6C649.2 104.0 653.9 110.1 656.5 115.7C659.1 121.3 661.1 126.0 661.7 131.2C662.4 136.4 661.3 142.2 660.4 147.0C659.5 151.8 658.6 154.8 656.5 160.0C654.4 165.2 650.9 171.6 647.5 178.0C644.1 184.4 640.0 192.1 635.9 198.6C631.8 205.1 630.2 207.5 623.0 217.0C615.8 226.5 598.2 248.5 592.5 255.7C586.8 262.9 589.6 259.3 589.0 260.0L572.5 260.0L572.5 57.5L637.2 57.5Z" fill="#3a55d6"/>
<path d="M804.0 243.0C803.4 242.8 803.2 242.6 800.5 241.5C797.8 240.4 792.6 238.7 788.0 236.3C783.4 233.9 776.9 230.5 772.6 227.3C768.3 224.1 764.9 220.9 762.3 217.0C759.7 213.1 758.5 208.1 757.0 203.8C755.5 199.5 754.9 194.0 753.2 191.0C751.5 188.0 749.6 185.9 746.8 185.7C744.0 185.5 740.8 187.0 736.5 189.6C732.2 192.2 726.2 196.4 721.0 201.0C715.8 205.6 712.0 211.8 705.5 217.0C699.0 222.2 690.5 226.5 682.3 232.5C674.1 238.5 667.0 244.2 656.5 253.0C646.0 261.8 625.8 279.6 619.0 285.5C612.2 291.4 616.1 288.0 615.5 288.5L615.5 305.5L820.5 305.5L820.5 243.0Z" fill="#3a55d6"/>
<path d="M592.5 74.0C592.6 74.5 592.1 72.2 593.3 77.0C594.5 81.8 597.3 94.2 599.7 102.8C602.1 111.4 605.1 121.2 607.5 128.6C609.9 136.0 611.9 141.8 614.0 147.0C616.1 152.2 618.5 155.3 620.4 160.0C622.3 164.7 624.9 170.2 625.5 175.4C626.1 180.6 625.5 185.8 624.2 191.0C622.9 196.2 619.9 202.0 617.8 206.3C615.6 210.6 613.9 213.1 611.3 217.0C608.7 220.9 605.4 225.5 602.3 230.0C599.2 234.5 594.7 240.8 592.5 244.0C590.3 247.2 589.6 248.2 589.0 249.0L572.5 249.0L572.5 74.0Z" fill="#3f7fe0"/>
<path d="M804.0 285.8C803.4 285.6 805.7 286.4 800.5 284.6C795.3 282.8 781.6 278.3 772.6 275.0C763.6 271.7 754.1 268.4 746.8 264.7C739.5 261.0 733.4 257.1 728.7 253.0C724.0 248.9 721.4 244.5 718.4 240.2C715.4 235.9 713.3 230.0 710.7 227.3C708.1 224.6 706.5 224.0 703.0 224.2C699.5 224.4 695.6 225.5 690.0 228.6C684.4 231.7 677.1 236.6 669.4 242.8C661.7 249.0 651.3 258.9 643.6 266.0C635.9 273.1 626.9 281.8 623.0 285.5C619.1 289.2 620.5 288.0 620.0 288.5L620.0 305.5L804.0 305.5Z" fill="#3f7fe0"/>
<path d="M589.0 166.0C589.6 167.2 591.3 170.2 592.5 173.0C593.7 175.8 594.8 179.2 596.0 183.0C597.2 186.8 598.9 191.7 599.7 196.0C600.5 200.3 601.0 205.5 601.0 209.0C601.0 212.5 600.5 214.4 599.7 217.0C598.9 219.6 597.2 222.5 596.0 224.7C594.8 226.9 593.7 228.3 592.5 230.0C591.3 231.7 589.6 234.2 589.0 235.0L572.5 235.0L572.5 166.0Z" fill="#5aaef5"/>
<path d="M717.0 288.5C716.4 288.0 715.6 287.1 713.3 285.5C711.0 283.9 706.5 282.0 703.0 279.0C699.5 276.0 695.4 271.2 692.6 267.3C689.8 263.4 688.8 258.3 686.2 255.7C683.6 253.1 681.1 251.6 677.0 251.8C672.9 252.0 667.3 254.0 661.7 257.0C656.1 260.0 649.6 265.2 643.6 270.0C637.6 274.8 629.1 282.4 625.5 285.5C621.9 288.6 622.6 288.0 622.0 288.5L622.0 305.5L717.0 305.5Z" fill="#5aaef5"/>
<path d="M673.0 288.5C672.6 288.0 671.7 286.9 670.7 285.5C669.7 284.1 668.5 282.1 666.8 280.2C665.1 278.2 662.5 275.1 660.4 273.8C658.3 272.5 657.2 271.9 654.0 272.5C650.8 273.1 645.3 275.4 641.0 277.6C636.7 279.8 630.8 283.7 628.0 285.5C625.2 287.3 624.7 288.0 624.0 288.5L624.0 305.5L673.0 305.5Z" fill="#c5eafc"/>
<path d="M759.5 74.0C759.1 74.5 760.8 72.2 757.0 77.0C753.2 81.8 743.8 94.2 736.5 102.8C729.2 111.4 719.8 121.2 713.3 128.6C706.8 136.0 705.1 138.3 697.8 147.0C690.5 155.7 679.3 168.8 669.4 180.5C659.5 192.2 651.2 202.6 638.4 217.0C625.6 231.4 600.7 258.0 592.5 267.0C584.3 276.0 589.6 270.3 589.0 271.0" fill="none" stroke="#0a0a30" stroke-opacity="0.55" stroke-width="0.5"/>
<path d="M804.0 100.0C803.4 100.7 804.0 100.1 800.5 104.0C797.0 107.9 789.4 116.2 783.0 123.4C776.6 130.6 772.6 137.1 762.3 147.0C752.0 156.9 734.1 171.3 721.0 183.0C707.9 194.7 702.5 199.9 683.6 217.0C664.7 234.1 620.8 273.6 607.5 285.5C594.2 297.4 604.6 288.0 604.0 288.5" fill="none" stroke="#0a0a30" stroke-opacity="0.55" stroke-width="0.5"/>
<path d="M717.0 74.0C717.0 74.5 717.2 73.9 717.0 77.0C716.8 80.1 717.3 86.9 715.8 92.5C714.3 98.1 711.4 104.0 708.0 110.5C704.6 117.0 699.3 125.1 695.2 131.2C691.1 137.3 688.3 140.1 683.6 147.0C678.9 153.9 673.0 164.2 666.8 172.8C660.6 181.4 652.2 191.2 646.2 198.6C640.2 206.0 639.7 206.6 630.7 217.0C621.8 227.4 599.5 252.8 592.5 260.8C585.5 268.8 589.6 264.3 589.0 265.0" fill="none" stroke="#0a0a30" stroke-opacity="0.55" stroke-width="0.5"/>
<path d="M804.0 125.0C803.4 125.4 803.2 125.6 800.5 127.3C797.8 129.0 793.1 131.7 788.0 135.0C782.9 138.3 776.9 141.1 770.0 147.0C763.1 152.9 755.8 161.6 746.8 170.2C737.8 178.8 724.4 190.8 715.8 198.6C707.2 206.4 712.2 202.5 695.2 217.0C678.2 231.5 628.1 273.6 614.0 285.5C599.9 297.4 611.1 288.0 610.5 288.5" fill="none" stroke="#0a0a30" stroke-opacity="0.55" stroke-width="0.5"/>
<path d="M637.2 74.0C637.4 74.5 636.9 73.1 638.4 77.0C639.9 80.9 643.2 91.1 646.2 97.6C649.2 104.0 653.9 110.1 656.5 115.7C659.1 121.3 661.1 126.0 661.7 131.2C662.4 136.4 661.3 142.2 660.4 147.0C659.5 151.8 658.6 154.8 656.5 160.0C654.4 165.2 650.9 171.6 647.5 178.0C644.1 184.4 640.0 192.1 635.9 198.6C631.8 205.1 630.2 207.5 623.0 217.0C615.8 226.5 598.2 248.5 592.5 255.7C586.8 262.9 589.6 259.3 589.0 260.0" fill="none" stroke="#0a0a30" stroke-opacity="0.55" stroke-width="0.5"/>
<path d="M804.0 243.0C803.4 242.8 803.2 242.6 800.5 241.5C797.8 240.4 792.6 238.7 788.0 236.3C783.4 233.9 776.9 230.5 772.6 227.3C768.3 224.1 764.9 220.9 762.3 217.0C759.7 213.1 758.5 208.1 757.0 203.8C755.5 199.5 754.9 194.0 753.2 191.0C751.5 188.0 749.6 185.9 746.8 185.7C744.0 185.5 740.8 187.0 736.5 189.6C732.2 192.2 726.2 196.4 721.0 201.0C715.8 205.6 712.0 211.8 705.5 217.0C699.0 222.2 690.5 226.5 682.3 232.5C674.1 238.5 667.0 244.2 656.5 253.0C646.0 261.8 625.8 279.6 619.0 285.5C612.2 291.4 616.1 288.0 615.5 288.5" fill="none" stroke="#0a0a30" stroke-opacity="0.55" stroke-width="0.5"/>
<path d="M592.5 74.0C592.6 74.5 592.1 72.2 593.3 77.0C594.5 81.8 597.3 94.2 599.7 102.8C602.1 111.4 605.1 121.2 607.5 128.6C609.9 136.0 611.9 141.8 614.0 147.0C616.1 152.2 618.5 155.3 620.4 160.0C622.3 164.7 624.9 170.2 625.5 175.4C626.1 180.6 625.5 185.8 624.2 191.0C622.9 196.2 619.9 202.0 617.8 206.3C615.6 210.6 613.9 213.1 611.3 217.0C608.7 220.9 605.4 225.5 602.3 230.0C599.2 234.5 594.7 240.8 592.5 244.0C590.3 247.2 589.6 248.2 589.0 249.0" fill="none" stroke="#0a0a30" stroke-opacity="0.55" stroke-width="0.5"/>
<path d="M804.0 285.8C803.4 285.6 805.7 286.4 800.5 284.6C795.3 282.8 781.6 278.3 772.6 275.0C763.6 271.7 754.1 268.4 746.8 264.7C739.5 261.0 733.4 257.1 728.7 253.0C724.0 248.9 721.4 244.5 718.4 240.2C715.4 235.9 713.3 230.0 710.7 227.3C708.1 224.6 706.5 224.0 703.0 224.2C699.5 224.4 695.6 225.5 690.0 228.6C684.4 231.7 677.1 236.6 669.4 242.8C661.7 249.0 651.3 258.9 643.6 266.0C635.9 273.1 626.9 281.8 623.0 285.5C619.1 289.2 620.5 288.0 620.0 288.5" fill="none" stroke="#0a0a30" stroke-opacity="0.55" stroke-width="0.5"/>
<path d="M589.0 166.0C589.6 167.2 591.3 170.2 592.5 173.0C593.7 175.8 594.8 179.2 596.0 183.0C597.2 186.8 598.9 191.7 599.7 196.0C600.5 200.3 601.0 205.5 601.0 209.0C601.0 212.5 600.5 214.4 599.7 217.0C598.9 219.6 597.2 222.5 596.0 224.7C594.8 226.9 593.7 228.3 592.5 230.0C591.3 231.7 589.6 234.2 589.0 235.0" fill="none" stroke="#0a0a30" stroke-opacity="0.55" stroke-width="0.5"/>
<path d="M717.0 288.5C716.4 288.0 715.6 287.1 713.3 285.5C711.0 283.9 706.5 282.0 703.0 279.0C699.5 276.0 695.4 271.2 692.6 267.3C689.8 263.4 688.8 258.3 686.2 255.7C683.6 253.1 681.1 251.6 677.0 251.8C672.9 252.0 667.3 254.0 661.7 257.0C656.1 260.0 649.6 265.2 643.6 270.0C637.6 274.8 629.1 282.4 625.5 285.5C621.9 288.6 622.6 288.0 622.0 288.5" fill="none" stroke="#0a0a30" stroke-opacity="0.55" stroke-width="0.5"/>
<path d="M673.0 288.5C672.6 288.0 671.7 286.9 670.7 285.5C669.7 284.1 668.5 282.1 666.8 280.2C665.1 278.2 662.5 275.1 660.4 273.8C658.3 272.5 657.2 271.9 654.0 272.5C650.8 273.1 645.3 275.4 641.0 277.6C636.7 279.8 630.8 283.7 628.0 285.5C625.2 287.3 624.7 288.0 624.0 288.5" fill="none" stroke="#0a0a30" stroke-opacity="0.55" stroke-width="0.5"/>
<rect x="592.5" y="77.5" width="208.0" height="208.0" fill="url(#mesh)"/>
<path d="M592.5 286V279.3L795.5 77.5" fill="none" stroke="#ff0018" stroke-width="1.4"/>
</g>
<path d="M592.50 285.5v-2.2M592.50 77.5v2.2M592.5 285.50h2.2M800.5 285.50h-2.2M600.82 285.5v-1.3M600.82 77.5v1.3M592.5 277.18h1.3M800.5 277.18h-1.3M609.14 285.5v-1.3M609.14 77.5v1.3M592.5 268.86h1.3M800.5 268.86h-1.3M617.46 285.5v-1.3M617.46 77.5v1.3M592.5 260.54h1.3M800.5 260.54h-1.3M625.78 285.5v-1.3M625.78 77.5v1.3M592.5 252.22h1.3M800.5 252.22h-1.3M634.10 285.5v-2.2M634.10 77.5v2.2M592.5 243.90h2.2M800.5 243.90h-2.2M642.42 285.5v-1.3M642.42 77.5v1.3M592.5 235.58h1.3M800.5 235.58h-1.3M650.74 285.5v-1.3M650.74 77.5v1.3M592.5 227.26h1.3M800.5 227.26h-1.3M659.06 285.5v-1.3M659.06 77.5v1.3M592.5 218.94h1.3M800.5 218.94h-1.3M667.38 285.5v-1.3M667.38 77.5v1.3M592.5 210.62h1.3M800.5 210.62h-1.3M675.70 285.5v-2.2M675.70 77.5v2.2M592.5 202.30h2.2M800.5 202.30h-2.2M684.02 285.5v-1.3M684.02 77.5v1.3M592.5 193.98h1.3M800.5 193.98h-1.3M692.34 285.5v-1.3M692.34 77.5v1.3M592.5 185.66h1.3M800.5 185.66h-1.3M700.66 285.5v-1.3M700.66 77.5v1.3M592.5 177.34h1.3M800.5 177.34h-1.3M708.98 285.5v-1.3M708.98 77.5v1.3M592.5 169.02h1.3M800.5 169.02h-1.3M717.30 285.5v-2.2M717.30 77.5v2.2M592.5 160.70h2.2M800.5 160.70h-2.2M725.62 285.5v-1.3M725.62 77.5v1.3M592.5 152.38h1.3M800.5 152.38h-1.3M733.94 285.5v-1.3M733.94 77.5v1.3M592.5 144.06h1.3M800.5 144.06h-1.3M742.26 285.5v-1.3M742.26 77.5v1.3M592.5 135.74h1.3M800.5 135.74h-1.3M750.58 285.5v-1.3M750.58 77.5v1.3M592.5 127.42h1.3M800.5 127.42h-1.3M758.90 285.5v-2.2M758.90 77.5v2.2M592.5 119.10h2.2M800.5 119.10h-2.2M767.22 285.5v-1.3M767.22 77.5v1.3M592.5 110.78h1.3M800.5 110.78h-1.3M775.54 285.5v-1.3M775.54 77.5v1.3M592.5 102.46h1.3M800.5 102.46h-1.3M783.86 285.5v-1.3M783.86 77.5v1.3M592.5 94.14h1.3M800.5 94.14h-1.3M792.18 285.5v-1.3M792.18 77.5v1.3M592.5 85.82h1.3M800.5 85.82h-1.3M800.50 285.5v-2.2M800.50 77.5v2.2M592.5 77.50h2.2M800.5 77.50h-2.2" stroke="#222" stroke-opacity="0.6" stroke-width="0.4" fill="none"/>
<rect x="592.5" y="77.5" width="208.0" height="208.0" fill="none" stroke="#555" stroke-opacity="0.5" stroke-width="0.4"/>
<text x="592.5" y="299.9" text-anchor="middle" font-size="13.8">0.5</text>
<text x="634.1" y="299.9" text-anchor="middle" font-size="13.8">0.6</text>
<text x="675.7" y="299.9" text-anchor="middle" font-size="13.8">0.7</text>
<text x="717.3" y="299.9" text-anchor="middle" font-size="13.8">0.8</text>
<text x="758.9" y="299.9" text-anchor="middle" font-size="13.8">0.9</text>
<text x="800.5" y="299.9" text-anchor="middle" font-size="13.8">1.0</text>
<text x="696.5" y="323.6" text-anchor="middle" font-size="20.5" font-style="italic" class="axl">f<tspan font-size="14" dy="3.4" dx="0.6" font-style="normal">0</tspan><tspan font-size="14">e</tspan><tspan dy="-3.4" dx="2.2" font-style="normal">/</tspan><tspan dx="0.8">β</tspan></text>
<rect x="565.70" y="47.3" width="35.13" height="6.9" fill="#2a0050"/>
<rect x="600.53" y="47.3" width="35.13" height="6.9" fill="#4b0e92"/>
<rect x="635.36" y="47.3" width="35.13" height="6.9" fill="#4530b8"/>
<rect x="670.19" y="47.3" width="35.13" height="6.9" fill="#3a55d6"/>
<rect x="705.02" y="47.3" width="35.13" height="6.9" fill="#3f7fe0"/>
<rect x="739.85" y="47.3" width="35.13" height="6.9" fill="#5aaef5"/>
<rect x="774.68" y="47.3" width="34.83" height="6.9" fill="#c5eafc"/>
<text x="600.5" y="41.6" text-anchor="middle" font-size="12">8.40</text>
<text x="635.4" y="41.6" text-anchor="middle" font-size="12">11.20</text>
<text x="670.2" y="41.6" text-anchor="middle" font-size="12">14.00</text>
<text x="705.0" y="41.6" text-anchor="middle" font-size="12">16.80</text>
<text x="739.9" y="41.6" text-anchor="middle" font-size="12">19.60</text>
<text x="774.7" y="41.6" text-anchor="middle" font-size="12">22.40</text>
<text x="793.2" y="40.8" font-size="8.6">×10<tspan dy="-3" font-size="6">-3</tspan></text>
<text x="682.7" y="19.3" text-anchor="middle" font-size="16.5">1 <tspan font-size="19" dy="0.6">–</tspan><tspan dy="-0.6"> </tspan><tspan font-style="italic" font-size="17.5">F</tspan></text>
<text x="605.0" y="102.6" font-size="16">(c)</text>
<text x="47.9" y="289.7" text-anchor="end" font-size="13.8">0.5</text>
<text x="47.9" y="248.1" text-anchor="end" font-size="13.8">0.6</text>
<text x="47.9" y="206.5" text-anchor="end" font-size="13.8">0.7</text>
<text x="47.9" y="164.9" text-anchor="end" font-size="13.8">0.8</text>
<text x="47.9" y="123.3" text-anchor="end" font-size="13.8">0.9</text>
<text x="47.9" y="81.7" text-anchor="end" font-size="13.8">1.0</text>
<text transform="translate(16.8 182.8) rotate(-90)" text-anchor="middle" font-size="20.5" font-style="italic" class="axl">f<tspan font-size="14" dy="3.4" dx="0.6" font-style="normal">1</tspan><tspan font-size="14">e</tspan><tspan dy="-3.4" dx="2.2" font-style="normal">/</tspan><tspan dx="0.8">β</tspan></text>
</svg></body></html>
